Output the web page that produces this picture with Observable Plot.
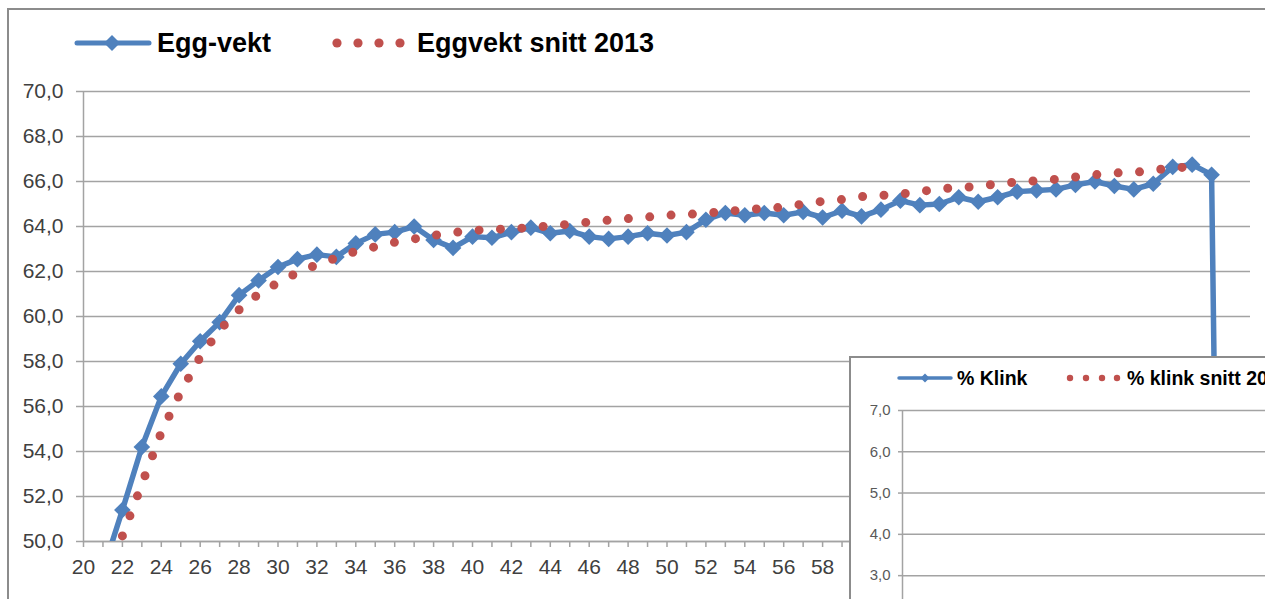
<!DOCTYPE html>
<html>
<head>
<meta charset="utf-8">
<script src="https://cdn.jsdelivr.net/npm/d3@7"></script>
<script src="https://cdn.jsdelivr.net/npm/@observablehq/plot@0.6"></script>
<style>
  html, body { margin: 0; padding: 0; background: #fff; width: 1265px; height: 599px; overflow: hidden;
    font-family: "Liberation Sans", Arial, sans-serif; }
  #frame { position: absolute; left: 7px; top: 8px; width: 1320px; height: 700px; border: 2.5px solid #8c8c8c; box-sizing: border-box; }
  #main { position: absolute; left: 0; top: 80px; }
  .leg { position: absolute; font-weight: bold; color: #000; white-space: nowrap; line-height: 1; }
  .sw { position: absolute; overflow: visible; }
  #inset { position: absolute; left: 849px; top: 356px; width: 460px; height: 320px; background: #fff;
    border: 2px solid #8c8c8c; overflow: hidden; }
  #insetPlot { position: absolute; left: 0; top: 30px; }
</style>
</head>
<body>
<div id="frame"></div>
<div id="legend"></div>
<div id="main"></div>
<div id="inset"><div id="insetLegend"></div><div id="insetPlot"></div></div>
<script>
// ---- data ----
const eggWeeks = [21,22,23,24,25,26,27,28,29,30,31,32,33,34,35,36,37,38,39,40,41,42,43,44,45,46,47,48,49,50,
  51,52,53,54,55,56,57,58,59,60,61,62,63,64,65,66,67,68,69,70,71,72,73,74,75,76,77,78,79];
const eggVekt = [48.7,51.4,54.2,56.45,57.9,58.9,59.75,60.95,61.6,62.2,62.55,62.75,62.65,63.25,63.65,63.75,64.0,63.4,63.05,63.55,
  63.5,63.75,63.95,63.7,63.8,63.55,63.45,63.55,63.7,63.6,63.75,64.3,64.6,64.5,64.6,64.5,64.65,64.4,64.7,64.45,
  64.75,65.15,64.95,65.0,65.3,65.1,65.3,65.55,65.6,65.65,65.85,66.0,65.8,65.65,65.9,66.65,66.75,66.3,0];
const snittWeeks = [22,23,24,25,26,27,28,29,30,31,32,33,34,35,36,37,38,39,40,41,42,43,44,45,46,47,48,49,50,
  51,52,53,54,55,56,57,58,59,60,61,62,63,64,65,66,67,68,69,70,71,72,73,74,75,76,77];
const snitt2013 = [50.25,52.55,54.85,56.65,58.2,59.4,60.3,61.0,61.5,61.95,62.3,62.6,62.9,63.1,63.3,63.45,63.6,63.73,63.82,63.87,
  63.9,63.95,64.03,64.1,64.2,64.28,64.35,64.42,64.5,64.53,64.6,64.66,64.75,64.8,64.86,65.0,65.12,65.2,65.33,65.38,
  65.44,65.55,65.68,65.73,65.78,65.9,65.98,66.03,66.1,66.2,66.3,66.38,66.4,66.5,66.62,66.63];
const xTickWeeks = [20,21,22,23,24,25,26,27,28,29,30,31,32,33,34,35,36,37,38,39,40,41,42,43,44,45,46,47,48,49,50,
  51,52,53,54,55,56,57,58,59,60,61,62,63,64,65,66,67,68,69,70,71,72,73,74,75,76,77,78,79,80];
const xLabelWeeks = [20,22,24,26,28,30,32,34,36,38,40,42,44,46,48,50,52,54,56,58];
const yTicks = [50,52,54,56,58,60,62,64,66,68,70];
const klinkTicks = [0,1,2,3,4,5,6,7];
const seriesNames = ["Egg-vekt", "Eggvekt snitt 2013"];
const insetNames = ["% Klink", "% klink snitt 2013"];

// ---- styles ----
const blue = "#4F81BD", red = "#C0504D", grid = "#a3a3a3";
const fmt = d => d3.format(".1f")(d).replace(".", ",");
const font = "'Liberation Sans', Arial, sans-serif";

const eggData = eggWeeks.map((w, i) => ({week: w, value: eggVekt[i]}));
const snittData = snittWeeks.map((w, i) => ({week: w, value: snitt2013[i]}));

// ---- legend (HTML) ----
const legend = document.getElementById("legend");
legend.innerHTML = `
  <svg class="sw" style="left:75px;top:31px" width="76" height="24">
    <line x1="2" y1="12" x2="74" y2="12" stroke="${blue}" stroke-width="5" stroke-linecap="round"/>
    <path d="M37,4 L45,12 L37,20 L29,12 Z" fill="${blue}"/>
  </svg>
  <div class="leg" style="left:157px;top:30px;font-size:27px">${seriesNames[0]}</div>
  <svg class="sw" style="left:330px;top:31px" width="76" height="24">
    ${[7,28,49,70].map(x => `<circle cx="${x}" cy="12" r="4.6" fill="${red}"/>`).join("")}
  </svg>
  <div class="leg" style="left:417px;top:30px;font-size:27px">${seriesNames[1]}</div>`;

// ---- main chart ----
const main = Plot.plot({
  width: 1265, height: 519,
  marginLeft: 83, marginRight: 15, marginTop: 11, marginBottom: 58,
  style: {fontFamily: font, fontSize: "21px", color: "#404040", background: "transparent", overflow: "visible"},
  x: {domain: [20, 80], label: null},
  y: {domain: [50, 70], label: null},
  marks: [
    Plot.gridY(yTicks, {stroke: grid, strokeOpacity: 1, strokeWidth: 1.5}),
    Plot.axisY(yTicks, {tickFormat: fmt, tickSize: 7, tickPadding: 13, stroke: grid, strokeWidth: 1.5, label: null}),
    Plot.axisX(xTickWeeks, {tickFormat: () => "", tickSize: 6, stroke: grid, strokeWidth: 1.5, label: null}),
    Plot.axisX(xLabelWeeks, {tickSize: 0, tickPadding: 18, label: null}),
    Plot.ruleX([20], {stroke: grid, strokeWidth: 1.5}),
    Plot.ruleY([50], {stroke: grid, strokeWidth: 1.5}),
    Plot.line(eggData, {x: "week", y: "value", stroke: blue, strokeWidth: 5.5, clip: true}),
    Plot.dot(eggData, {x: "week", y: "value", symbol: "diamond2", r: 7.5, fill: blue, stroke: "none", clip: true}),
    Plot.line(snittData, {x: "week", y: "value", stroke: red, strokeWidth: 9,
      strokeDasharray: "0 21.4", strokeLinecap: "round", clip: true})
  ]
});
document.getElementById("main").appendChild(main);

// ---- inset chart (% Klink) ----
document.getElementById("insetLegend").innerHTML = `
  <svg class="sw" style="left:47px;top:12px" width="56" height="16">
    <line x1="1" y1="8" x2="53" y2="8" stroke="${blue}" stroke-width="3.5" stroke-linecap="round"/>
    <path d="M27,3.5 L31.5,8 L27,12.5 L22.5,8 Z" fill="${blue}"/>
  </svg>
  <div class="leg" style="left:106px;top:11px;font-size:19.5px">${insetNames[0]}</div>
  <svg class="sw" style="left:212px;top:12px" width="60" height="16">
    ${[7,23,39,54].map(x => `<circle cx="${x}" cy="8" r="3.2" fill="${red}"/>`).join("")}
  </svg>
  <div class="leg" style="left:276px;top:11px;font-size:19.5px">${insetNames[1]}</div>`;

const inset = Plot.plot({
  width: 460, height: 351,
  marginLeft: 51, marginRight: 0, marginTop: 22, marginBottom: 40,
  style: {fontFamily: font, fontSize: "15px", color: "#595959", background: "transparent"},
  x: {domain: [20, 80], label: null, axis: null},
  y: {domain: [0, 7], label: null},
  marks: [
    Plot.gridY(klinkTicks, {stroke: grid, strokeOpacity: 1, strokeWidth: 1.5}),
    Plot.axisY(klinkTicks, {tickFormat: fmt, tickSize: 4, tickPadding: 8, stroke: grid, strokeWidth: 1.5, label: null}),
    Plot.ruleX([20], {stroke: grid, strokeWidth: 1.5})
  ]
});
document.getElementById("insetPlot").appendChild(inset);
</script>
</body>
</html>
